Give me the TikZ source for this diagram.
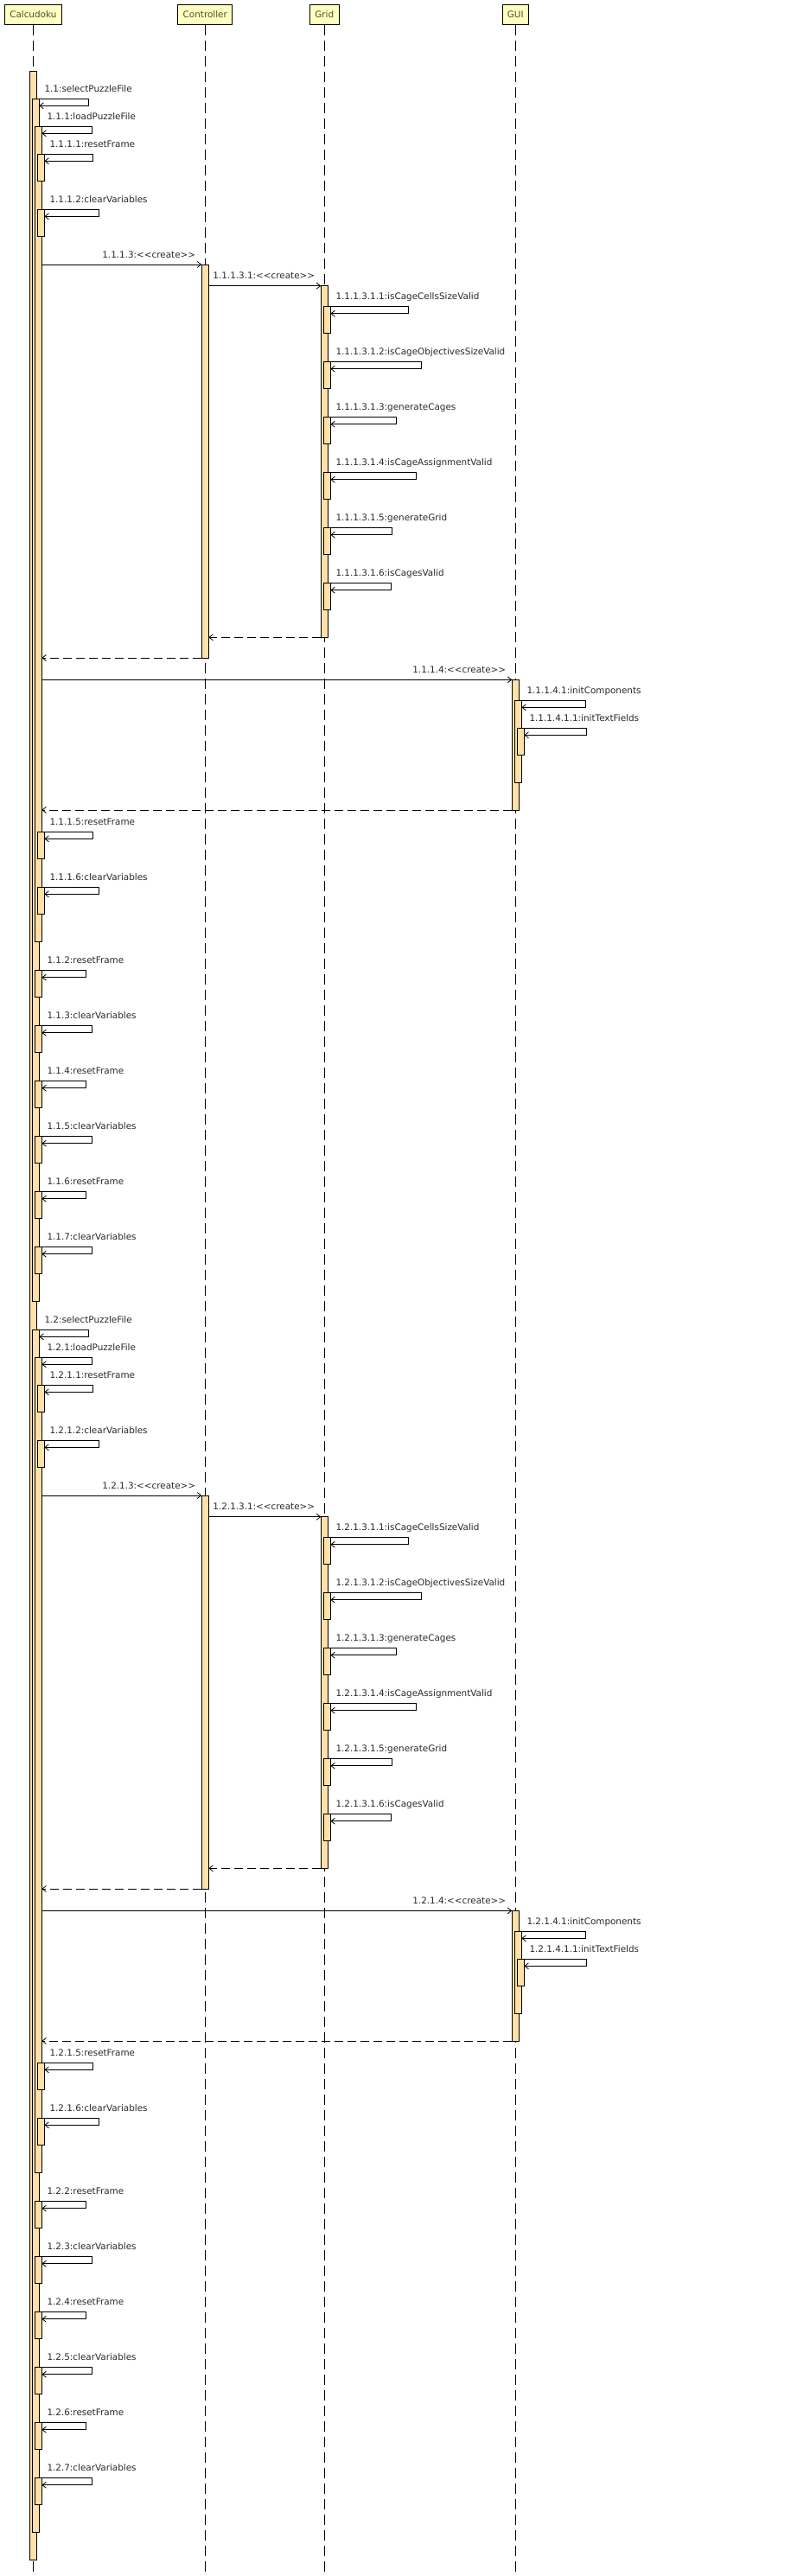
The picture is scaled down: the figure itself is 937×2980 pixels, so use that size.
\documentclass[tikz,border=0pt]{standalone}
\usepackage{fontspec}
\setmainfont{DejaVu Sans}
\usetikzlibrary{arrows.meta}
\definecolor{headfill}{RGB}{255,255,192}
\definecolor{headtext}{RGB}{77,77,51}
\definecolor{actfill}{RGB}{255,224,168}
\definecolor{msgtext}{RGB}{40,40,40}
\newcommand{\stereo}[1]{<\kern0pt<#1>\kern0pt>}

\begin{document}
\begin{tikzpicture}[
        x=1pt, y=-1pt,
        font=\fontsize{10.4}{12}\selectfont,
        % Têtes des lignes de vie
        headBox/.style={
            draw,
            line width=0.8pt,
            fill=headfill,
            text=headtext,
            inner xsep=6pt,
            inner ysep=0pt,
            minimum height=23pt
        },
        % Lignes de vie pointillées
        lifeLine/.style={
            line width=0.8pt,
            dash pattern=on 12pt off 6pt
        },
        % Barres d'activation
        actBar/.style={
            draw,
            line width=0.8pt,
            fill=actfill,
            minimum width=8pt,
            inner sep=0pt,
            outer sep=0pt,
            anchor=north west
        },
        % Messages
        callMsg/.style={
            line width=0.8pt,
            -{Straight Barb[length=4.5pt,width=7pt]}
        },
        retMsg/.style={
            callMsg,
            dash pattern=on 10pt off 5pt
        },
        msgLabel/.style={
            text=msgtext,
            inner sep=0pt,
            anchor=base west
        },
        createLabel/.style={
            msgLabel,
            anchor=base east
        }
    ]

    \useasboundingbox (0,0) rectangle (937,2980);

    % Objets
    \node[headBox] (calc) at (38.3,16.8) {Calcudoku};
    \node[headBox] (ctrl) at (237.3,16.8) {Controller};
    \node[headBox] (grid) at (375.3,16.8) {Grid};
    \node[headBox] (gui) at (596.3,16.8) {GUI};
    \coordinate (bottom) at (0,2980);

    % Lignes de vie
    \foreach \h in {calc,ctrl,grid,gui}
        \draw[lifeLine] (\h.south) -- (\h.south |- bottom);

    % Activation principale
    \node[actBar, minimum height=2879pt] (main) at (34.3,82.7) {};

    % Deux appels de selectPuzzleFile
    \foreach \k/\o in {1/0, 2/1424} {
    \begin{scope}[shift={(0,\o)}]
        \node[actBar, minimum height=1390.7pt] (sel\k) at (37.3,114.3) {};
        \draw[callMsg] (sel\k.north east) -- ++(57,0) -- ++(0,8) -- ([yshift=-8pt]sel\k.north east);
        \node[msgLabel] (lsel\k) at ([shift={(6pt,8pt)}]sel\k.north east) {1.\k:selectPuzzleFile};

        \node[actBar, minimum height=943pt] (load\k) at (40.3,146.3) {};
        \draw[callMsg] (load\k.north east) -- ++(58,0) -- ++(0,8) -- ([yshift=-8pt]load\k.north east);
        \node[msgLabel] (lload\k) at ([shift={(6pt,8pt)}]load\k.north east) {1.\k.1:loadPuzzleFile};

        \node[actBar, minimum height=31pt] (reset\k) at (43.3,178.3) {};
        \draw[callMsg] (reset\k.north east) -- ++(56,0) -- ++(0,8) -- ([yshift=-8pt]reset\k.north east);
        \node[msgLabel] (lreset\k) at ([shift={(6pt,8pt)}]reset\k.north east) {1.\k.1.1:resetFrame};

        \node[actBar, minimum height=31pt] (clear\k) at (43.3,242.3) {};
        \draw[callMsg] (clear\k.north east) -- ++(63,0) -- ++(0,8) -- ([yshift=-8pt]clear\k.north east);
        \node[msgLabel] (lclear\k) at ([shift={(6pt,8pt)}]clear\k.north east) {1.\k.1.2:clearVariables};

        % Création du Controller
        \node[actBar, minimum height=455pt] (ctl\k) at (233.3,306) {};
        \draw[callMsg] (ctl\k.north west -| load\k.east) -- (ctl\k.north west);
        \node[createLabel] (lctl\k) at ([shift={(-7pt,8pt)}]ctl\k.north west) {1.\k.1.3:\stereo{create}};

        % Création de la Grid
        \node[actBar, minimum height=406.6pt] (grd\k) at (371.3,330.7) {};
        \draw[callMsg] (grd\k.north west -| ctl\k.east) -- (grd\k.north west);
        \node[createLabel] (lgrd\k) at ([shift={(-7pt,8pt)}]grd\k.north west) {1.\k.1.3.1:\stereo{create}};

        \foreach \i/\nm/\w in {1/isCageCellsSizeValid/90, 2/isCageObjectivesSizeValid/105,
                3/generateCages/76, 4/isCageAssignmentValid/99, 5/generateGrid/71, 6/isCagesValid/70} {
            \node[actBar, minimum height=31pt] (chk\k\i) at (374.3,{354.7+64*(\i-1)}) {};
            \draw[callMsg] (chk\k\i.north east) -- ++(\w,0) -- ++(0,8) -- ([yshift=-8pt]chk\k\i.north east);
            \node[msgLabel] (lchk\k\i) at ([shift={(6pt,8pt)}]chk\k\i.north east) {1.\k.1.3.1.\i:\nm};
        }

        \draw[retMsg] (grd\k.south west) -- (grd\k.south west -| ctl\k.east);
        \draw[retMsg] (ctl\k.south west) -- (ctl\k.south west -| load\k.east);

        % Création du GUI
        \node[actBar, minimum height=150.7pt] (win\k) at (592.3,786.3) {};
        \draw[callMsg] (win\k.north west -| load\k.east) -- (win\k.north west);
        \node[createLabel] (lwin\k) at ([shift={(-7pt,8pt)}]win\k.north west) {1.\k.1.4:\stereo{create}};

        \node[actBar, minimum height=94.7pt] (comp\k) at (595.3,810.3) {};
        \draw[callMsg] (comp\k.north east) -- ++(74,0) -- ++(0,8) -- ([yshift=-8pt]comp\k.north east);
        \node[msgLabel] (lcomp\k) at ([shift={(6pt,8pt)}]comp\k.north east) {1.\k.1.4.1:initComponents};

        \node[actBar, minimum height=31pt] (text\k) at (598.3,842.3) {};
        \draw[callMsg] (text\k.north east) -- ++(72,0) -- ++(0,8) -- ([yshift=-8pt]text\k.north east);
        \node[msgLabel] (ltext\k) at ([shift={(6pt,8pt)}]text\k.north east) {1.\k.1.4.1.1:initTextFields};

        \draw[retMsg] (win\k.south west) -- (win\k.south west -| load\k.east);

        % Fin de loadPuzzleFile
        \node[actBar, minimum height=31pt] (resetB\k) at (43.3,962.3) {};
        \draw[callMsg] (resetB\k.north east) -- ++(56,0) -- ++(0,8) -- ([yshift=-8pt]resetB\k.north east);
        \node[msgLabel] (lresetB\k) at ([shift={(6pt,8pt)}]resetB\k.north east) {1.\k.1.5:resetFrame};

        \node[actBar, minimum height=31pt] (clearB\k) at (43.3,1026.3) {};
        \draw[callMsg] (clearB\k.north east) -- ++(63,0) -- ++(0,8) -- ([yshift=-8pt]clearB\k.north east);
        \node[msgLabel] (lclearB\k) at ([shift={(6pt,8pt)}]clearB\k.north east) {1.\k.1.6:clearVariables};

        % Appels suivants
        \foreach \j/\nm/\w in {2/resetFrame/51, 3/clearVariables/58, 4/resetFrame/51,
                5/clearVariables/58, 6/resetFrame/51, 7/clearVariables/58} {
            \node[actBar, minimum height=31pt] (sub\k\j) at (40.3,{1122.7+64*(\j-2)}) {};
            \draw[callMsg] (sub\k\j.north east) -- ++(\w,0) -- ++(0,8) -- ([yshift=-8pt]sub\k\j.north east);
            \node[msgLabel] (lsub\k\j) at ([shift={(6pt,8pt)}]sub\k\j.north east) {1.\k.\j:\nm};
        }
    \end{scope}
    }

\end{tikzpicture}
\end{document}
